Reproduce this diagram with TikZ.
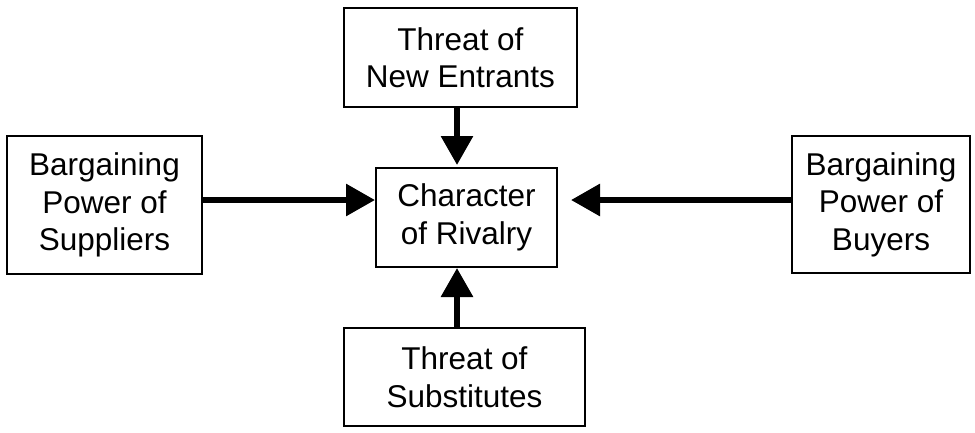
\documentclass[tikz,border=0pt]{standalone}
\usepackage{fontspec}
\setmainfont{Liberation Sans}
\usetikzlibrary{arrows.meta}
\begin{document}
\begin{tikzpicture}[x=1pt,y=-1pt,
  box/.style={draw,line width=2pt,rectangle,inner sep=0pt,align=center,
    font=\fontsize{31.5}{37.5}\selectfont},
  force/.style={line width=6pt,-{Triangle[length=29pt,width=31pt]}}]
\useasboundingbox (0,0) rectangle (975,432);
% the five forces
\node[box,minimum width=233pt,minimum height=99pt] (entrants) at (460.5,57.5) {Threat of\\New Entrants};
\node[box,minimum width=181pt,minimum height=99pt] (rivalry) at (466.5,217.5) {Character\\of Rivalry};
\node[box,minimum width=195pt,minimum height=138pt] (suppliers) at (104.5,205) {Bargaining\\Power of\\Suppliers};
\node[box,minimum width=178pt,minimum height=137pt] (buyers) at (881,204.5) {Bargaining\\Power of\\Buyers};
\node[box,minimum width=241pt,minimum height=98pt] (substitutes) at (464.5,377) {Threat of\\Substitutes};
% arrows pointing into the rivalry box
\coordinate (hub) at (457,200);
\draw[force,shorten >=2pt] (entrants.south -| hub) -- (rivalry.north -| hub);
\draw[force] (suppliers.east |- hub) -- (rivalry.west |- hub);
\draw[force,shorten >=13pt] (buyers.west |- hub) -- (rivalry.east |- hub);
\draw[force] (substitutes.north -| hub) -- (rivalry.south -| hub);
\end{tikzpicture}
\end{document}
